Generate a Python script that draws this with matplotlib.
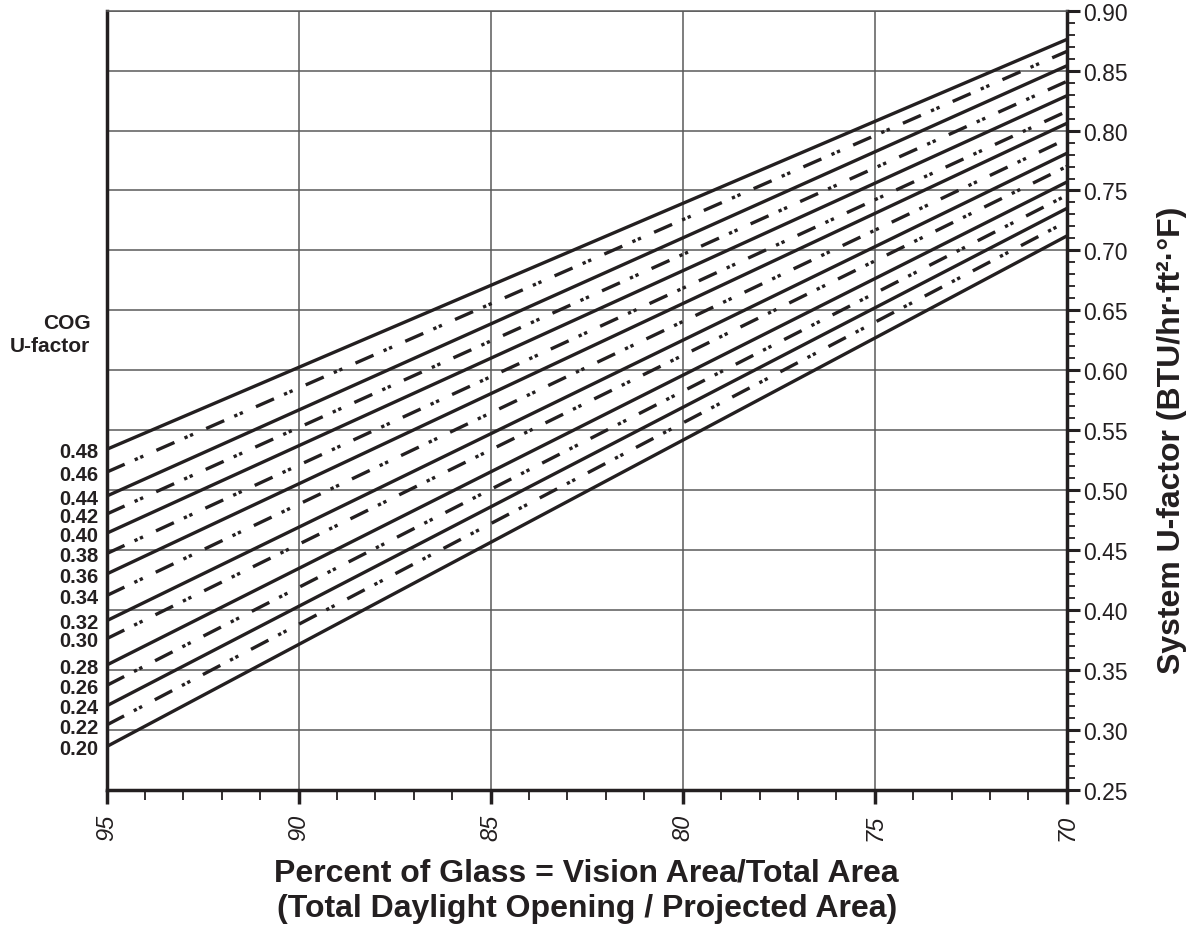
import matplotlib
matplotlib.use("Agg")
import matplotlib.pyplot as plt
from matplotlib.ticker import MultipleLocator, FormatStrFormatter
import matplotlib.transforms as mtransforms

plt.rcParams["font.family"] = ["Liberation Sans", "DejaVu Sans"]

# ----------------------------
# DATOS
# ----------------------------
cog = [0.48, 0.46, 0.44, 0.42, 0.40, 0.38, 0.36, 0.34,
       0.32, 0.30, 0.28, 0.26, 0.24, 0.22, 0.20]
pct_glass = [95, 70]
# U del sistema en 95 % y en 70 % de vidrio, una línea por COG
u_at_95 = [0.534, 0.515, 0.495, 0.480, 0.464, 0.447, 0.430, 0.412,
           0.391, 0.376, 0.354, 0.337, 0.320, 0.304, 0.286]
u_at_70 = [0.876, 0.866, 0.854, 0.841, 0.829, 0.816, 0.806, 0.793,
           0.781, 0.770, 0.757, 0.746, 0.735, 0.724, 0.712]
x_ticks = [95, 90, 85, 80, 75, 70]

INK = "#231f20"
GRID = "#5a5a5a"
DASHDOTDOT = (0, (5.9, 3.3, 1.0, 0.8, 1.0, 4.3))

fig = plt.figure(figsize=(12.01, 9.37), dpi=100)
ax = fig.add_axes([0.0888, 0.1561, 0.7994, 0.8314])

for i, (c, ya, yb) in enumerate(zip(cog, u_at_95, u_at_70)):
    estilo = "-" if i % 2 == 0 else DASHDOTDOT
    ax.plot(pct_glass, [ya, yb], color=INK, lw=2.4, linestyle=estilo,
            solid_capstyle="butt", dash_capstyle="butt", zorder=3)

ax.set_xlim(95, 70)
ax.set_ylim(0.25, 0.90)

# grilla
ax.xaxis.set_major_locator(MultipleLocator(5))
ax.xaxis.set_minor_locator(MultipleLocator(1))
ax.yaxis.set_major_locator(MultipleLocator(0.05))
ax.yaxis.set_minor_locator(MultipleLocator(0.01))
ax.grid(True, which="major", color=GRID, lw=1.1, zorder=1)

# ejes
ax.yaxis.tick_right()
ax.yaxis.set_label_position("right")
ax.yaxis.set_major_formatter(FormatStrFormatter("%.2f"))
ax.tick_params(axis="y", which="major", direction="out", length=9, width=2.2,
               labelsize=16.5, pad=3, colors=INK)
ax.tick_params(axis="y", which="minor", direction="out", length=6, width=1.3, colors=INK)
ax.tick_params(axis="x", which="major", direction="out", length=10, width=2.5,
               labelsize=17, pad=7, colors=INK)
ax.tick_params(axis="x", which="minor", direction="out", length=7, width=1.3, colors=INK)
ax.set_xticks(x_ticks)
ax.set_xticklabels([str(v) for v in x_ticks], rotation=90, style="italic")

for lado in ["left", "bottom", "right"]:
    ax.spines[lado].set_linewidth(2.5)
    ax.spines[lado].set_color(INK)
ax.spines["top"].set_linewidth(1.1)
ax.spines["top"].set_color(GRID)

ax.set_xlabel("Percent of Glass = Vision Area/Total Area\n(Total Daylight Opening / Projected Area)",
              fontsize=23, fontweight="bold", color=INK, labelpad=13, linespacing=1.25)
ax.set_ylabel("System U-factor (BTU/hr·ft²·°F)", fontsize=23,
              fontweight="bold", color=INK, rotation=90)
ax.yaxis.set_label_coords(1.094, 0.45)

# etiquetas COG a la izquierda
trans = mtransforms.blended_transform_factory(ax.transAxes, ax.transData)
trans_lab = mtransforms.offset_copy(trans, fig=fig, y=-2, units="dots")
for c, ya in zip(cog, u_at_95):
    ax.text(-0.009, ya, f"{c:.2f}", transform=trans_lab, ha="right", va="center",
            fontsize=14.5, fontweight="bold", color=INK)
ax.text(-0.017, 0.630, "COG\nU-factor", transform=trans, ha="right", va="center",
        multialignment="right", fontsize=15, fontweight="bold", color=INK,
        linespacing=1.25)

fig.savefig("out.png", dpi=100)
